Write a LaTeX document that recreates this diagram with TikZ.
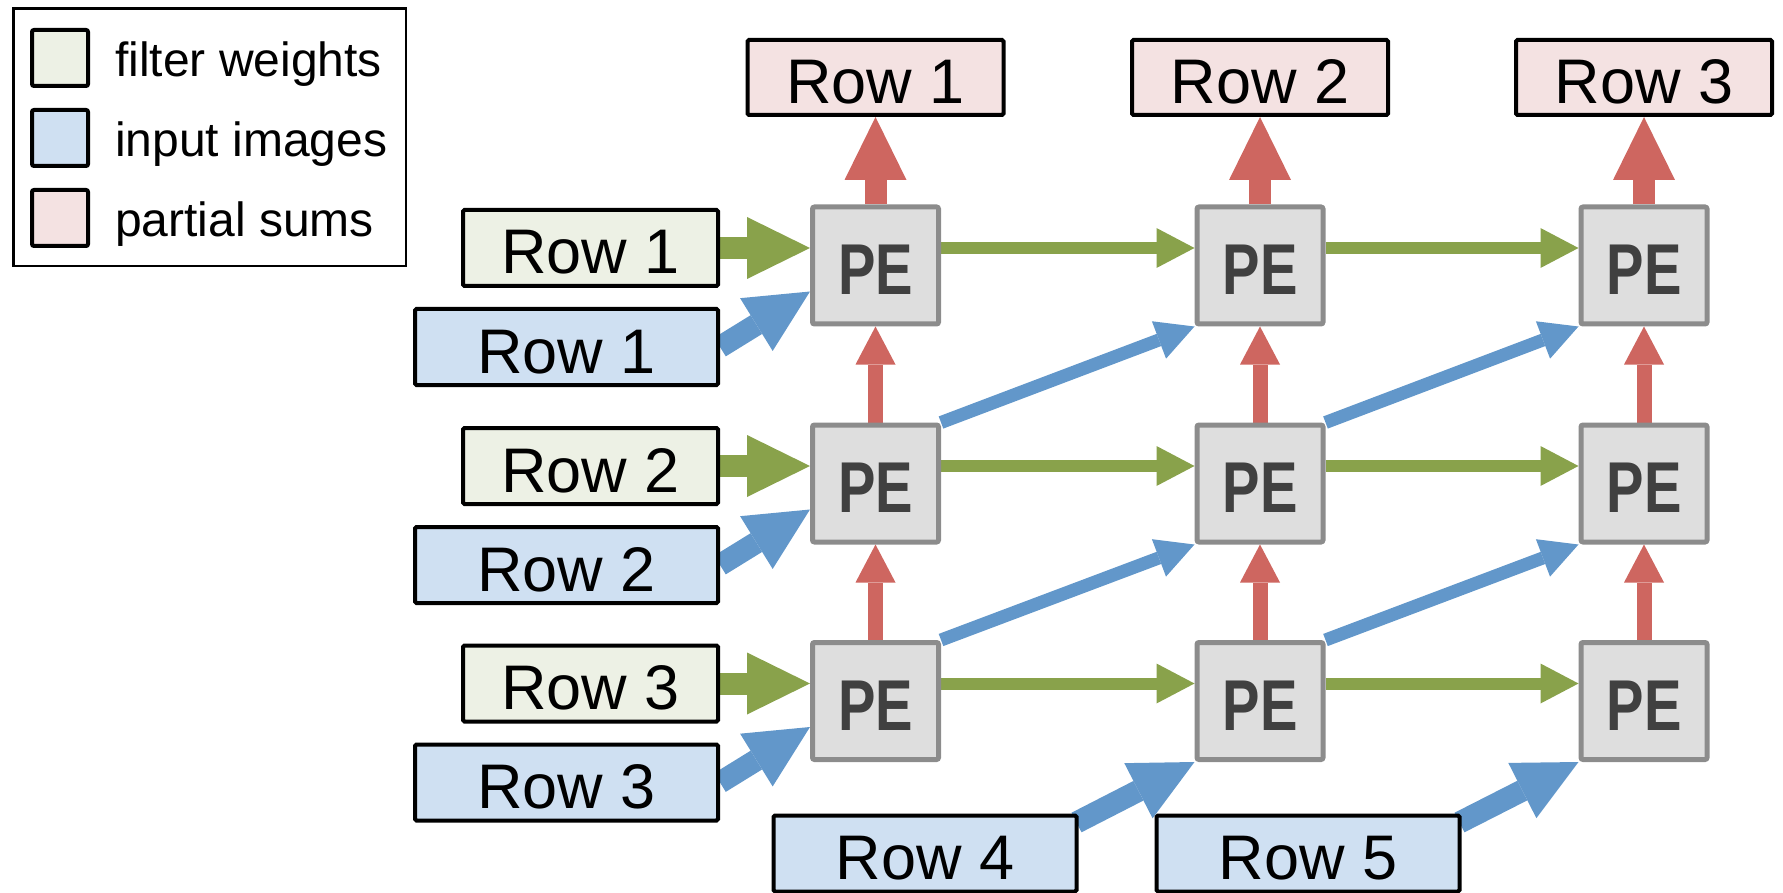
\documentclass[tikz,border=0pt]{standalone}
\usepackage{fontspec}
\setmainfont{Liberation Sans}
\usetikzlibrary{arrows.meta,calc}
\definecolor{arrgreen}{RGB}{137,162,75}
\definecolor{arrblue}{RGB}{98,151,202}
\definecolor{arrred}{RGB}{206,102,96}
\definecolor{pefill}{RGB}{222,222,222}
\definecolor{peborder}{RGB}{140,140,140}
\definecolor{petext}{RGB}{64,64,64}
\definecolor{wfill}{RGB}{237,241,229}
\definecolor{ifill}{RGB}{207,224,242}
\definecolor{ofill}{RGB}{244,226,226}
\pgfdeclarelayer{bg}
\pgfsetlayers{bg,main}
\begin{document}
\begin{tikzpicture}[x=1pt,y=-1pt,
  pe/.style={draw=peborder, fill=pefill, line width=5pt, rounded corners=2pt,
    minimum width=126pt, minimum height=117pt, inner sep=0pt, text=petext,
    font=\fontsize{72}{72}\selectfont\bfseries, text height=58.5pt, text depth=0pt},
  lbl/.style={draw=black, line width=4pt, rounded corners=1.5pt, minimum height=76pt,
    inner sep=0pt, font=\fontsize{63}{63}\selectfont, text height=52pt, text depth=0pt},
  wbox/.style={lbl, fill=wfill, minimum width=255pt},
  ibox/.style={lbl, fill=ifill, minimum width=303pt},
  obox/.style={lbl, fill=ofill, minimum width=256pt, minimum height=75pt},
  swatch/.style={draw=black, line width=4pt, rounded corners=2pt, minimum size=56pt, inner sep=0pt},
  legtext/.style={anchor=base west, inner sep=0pt, font=\fontsize{48}{48}\selectfont},
  bigarr/.style={line width=22pt, -{Triangle[length=63pt,width=62pt,line width=0pt]}},
  smallarr/.style={line width=13pt, -{Triangle[length=38pt,width=40pt,line width=0pt]}},
]
\useasboundingbox (0,0) rectangle (1783,893);

% legend
\node (legend) [draw=black, line width=2.5pt, fill=white, minimum width=392.5pt,
  minimum height=257.5pt, inner sep=0pt] at (209.5,137.5) {};
\node (sw1) [swatch, fill=wfill] at (60,58) {};
\node (sw2) [swatch, fill=ifill] at (60,138) {};
\node (sw3) [swatch, fill=ofill] at (60,218) {};
\node (lt1) [legtext] at (115,76.7) {filter weights};
\node (lt2) [legtext] at (115,156.7) {input images};
\node (lt3) [legtext] at (115,236.7) {partial sums};

% PE array
\foreach \r/\y in {1/265.5, 2/483.5, 3/701} {
  \foreach \c/\x in {1/875.5, 2/1260, 3/1644} {
    \node (pe\r\c) [pe] at (\x,\y) {\scalebox{0.78}[1]{PE}};
  }
}

% output boxes
\node (o1) [obox] at (875.5,77.5) {Row 1};
\node (o2) [obox] at (1260,77.5) {Row 2};
\node (o3) [obox] at (1644,77.5) {Row 3};

% filter weight boxes
\node (w1) [wbox] at (590.5,248) {Row 1};
\node (w2) [wbox] at (590.5,466) {Row 2};
\node (w3) [wbox] at (590.5,683.5) {Row 3};

% input image boxes
\node (i1) [ibox] at (566.5,347) {Row 1};
\node (i2) [ibox] at (566.5,565) {Row 2};
\node (i3) [ibox] at (566.5,782.5) {Row 3};
\node (i4) [ibox] at (925,853.5) {Row 4};
\node (i5) [ibox] at (1308,853.5) {Row 5};

\coordinate (r4s) at ($(i4.north east)+(-2,9)$);
\coordinate (r5s) at ($(i5.north east)+(-2,9)$);

\begin{pgfonlayer}{bg}
  % big input arrows
  \foreach \r in {1,2,3} {
    \draw[bigarr, arrgreen] (w\r.east) -- (pe\r1.west |- w\r.east);
    \draw[bigarr, arrblue] (i\r.east) -- ($(pe\r1.south west)+(0,-35)$);
  }
  \draw[bigarr, arrblue] (r4s) -- (pe32.south west);
  \draw[bigarr, arrblue] (r5s) -- (pe33.south west);
  % output arrows
  \foreach \c in {1,2,3} {
    \draw[bigarr, arrred] (pe1\c.north) -- (o\c.south);
    \draw[smallarr, arrred, line width=15pt] (pe2\c.north) -- (pe1\c.south);
    \draw[smallarr, arrred, line width=15pt] (pe3\c.north) -- (pe2\c.south);
  }
  % horizontal filter arrows
  \foreach \r in {1,2,3} {
    \draw[smallarr, arrgreen, line width=12pt] ($(pe\r1.east)+(0,-17.5)$) -- ($(pe\r2.west)+(0,-17.5)$);
    \draw[smallarr, arrgreen, line width=12pt] ($(pe\r2.east)+(0,-17.5)$) -- ($(pe\r3.west)+(0,-17.5)$);
  }
  % diagonal input arrows
  \draw[smallarr, arrblue] (pe21.north east) -- (pe12.south west);
  \draw[smallarr, arrblue] (pe22.north east) -- (pe13.south west);
  \draw[smallarr, arrblue] (pe31.north east) -- (pe22.south west);
  \draw[smallarr, arrblue] (pe32.north east) -- (pe23.south west);
\end{pgfonlayer}
\end{tikzpicture}
\end{document}
